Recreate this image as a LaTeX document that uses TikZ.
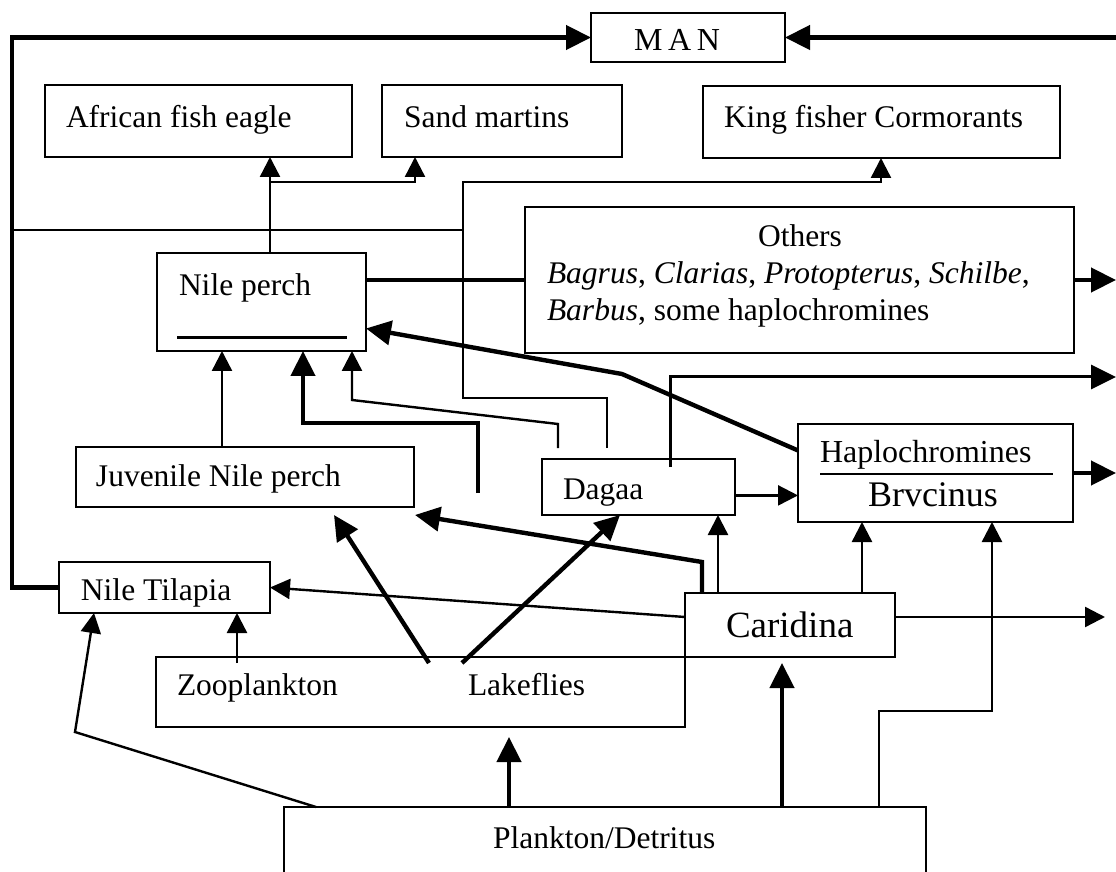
\documentclass[tikz,border=0pt]{standalone}
\usepackage{fontspec}
\setmainfont{Liberation Serif}
\usetikzlibrary{arrows.meta,fit,calc}
\begin{document}
\begin{tikzpicture}[x=0.5pt,y=-0.5pt,
  box/.style={draw, line width=1.1pt, inner sep=0pt, outer sep=0pt},
  lbl/.style={inner sep=0pt, outer sep=0pt, anchor=base west, font=\fontsize{15.75}{18}\selectfont},
  thinline/.style={line width=1.2pt},
  boldline/.style={line width=2.2pt},
  thinarrow/.style={line width=1.2pt, -{Triangle[length=10pt,width=10pt]}},
  boldarrow/.style={line width=2.2pt, -{Triangle[length=12.5pt,width=12pt]}},
]
\useasboundingbox (0,0) rectangle (1116,872);
\clip (0,0) rectangle (1116,872);

% ---- boxes ----
\node[box, fit={(591,13) (785,62)}] (man) {};
\node[box, fit={(45,85) (352,157)}] (afe) {};
\node[box, fit={(382,85) (622,157)}] (sm) {};
\node[box, fit={(703,86) (1060,158)}] (kf) {};
\node[box, fit={(525,207) (1074,353)}] (oth) {};
\node[box, fit={(157,253) (366,351)}] (npe) {};
\node[box, fit={(76,447) (414,507)}] (juv) {};
\node[box, fit={(542,459) (735,515)}] (dag) {};
\node[box, fit={(798,424) (1073,522)}] (hap) {};
\node[box, fit={(59,562) (270,613)}] (til) {};
\node[box, fit={(685,593) (895,657)}] (car) {};
\node[box, fit={(156,657) (685,727)}] (zoo) {};
\node[box, fit={(284,807) (926,890)}] (pla) {};

% ---- labels ----
\node[lbl, font=\fontsize{16}{18}\selectfont] (mant) at (634,51) {M\kern2.8pt A\kern2.8pt N};
\node[lbl] (afet) at (66,128) {African fish eagle};
\node[lbl] (smt) at (404,128) {Sand martins};
\node[lbl] (kft) at (724,128) {King fisher Cormorants};
\node[lbl, anchor=base] (otha) at (800,247) {Others};
\node[lbl] (othb) at (547,284) {\textit{Bagrus}, \textit{Clarias}, \textit{Protopterus}, \textit{Schilbe},};
\node[lbl] (othc) at (547,321) {\textit{Barbus}, some haplochromines};
\node[lbl] (npet) at (179,296) {Nile perch};
\node[lbl] (juvt) at (96,487) {Juvenile Nile perch};
\node[lbl] (dagt) at (563,499) {Dagaa};
\node[lbl, font=\fontsize{16}{18}\selectfont] (hapt) at (820,463) {Haplochromines};
\node[lbl, font=\fontsize{18}{20}\selectfont] (bryt) at (868,507) {Brvcinus};
\node[lbl, font=\fontsize{18.5}{20}\selectfont] (cart) at (726,637) {Caridina};
\node[lbl] (tilt) at (81,600) {Nile Tilapia};
\node[lbl] (zoot) at (177,695) {Zooplankton};
\node[lbl] (lakt) at (468,695) {Lakeflies};
\node[lbl] (plat) at (493,848) {Plankton/Detritus};

% underlines inside boxes
\draw[line width=1.5pt] ($(npe.south west)+(20,-13)$) -- ($(npe.south east)+(-19,-13)$);
\draw[line width=1.3pt] ($(hap.north west)+(22,50)$) -- ($(hap.north east)+(-20,50)$);

% ---- connectors ----
% Nile Tilapia round the left edge to MAN
\coordinate (loopx) at (12,300);
\draw[boldarrow] (til.west) -- (til.west -| loopx) -- (loopx |- man.west) -- (man.west);
% from the right edge to MAN
\coordinate (rin) at (1116,37.5);
\draw[boldarrow] (rin) -- (man.east);

% Nile perch to eagle and sand martins
\coordinate (fork) at (270,182);
\coordinate (smx) at (415,182);
\draw[thinarrow] (npe.north -| fork) -- (afe.south -| fork);
\draw[thinarrow] (fork) -- (smx) -- (sm.south -| smx);

% Dagaa route to kingfisher / cormorants
\coordinate (kfa) at (607,448);
\coordinate (kfb) at (607,398);
\coordinate (kfc) at (463,398);
\coordinate (kfd) at (463,182);
\coordinate (kfe) at (881,182);
\draw[thinarrow] (kfa) -- (kfb) -- (kfc) -- (kfd) -- (kfe) -- (kf.south -| kfe);
\coordinate (kfl) at (13,230);
\coordinate (kfm) at (463,230);
\draw[thinline] (kfl) -- (kfm);

% Nile perch -- Others, Others out
\draw[boldline] (npe.east |- oth.west) -- (oth.west);
\coordinate (othout) at (1116,280);
\draw[boldarrow] (oth.east) -- (othout);

% Haplochromines to Nile perch
\coordinate (hapbend) at (622,374);
\draw[boldarrow] ($(hap.north west)!0.27!(hap.south west)$) -- (hapbend) -- ($(npe.north east)!0.77!(npe.south east)$);

% Dagaa out to the right
\coordinate (dgin) at (670,467);
\coordinate (dgup) at (670,377);
\coordinate (dgout) at (1116,377);
\draw[line width=1.5pt, -{Triangle[length=12.5pt,width=12pt]}] (dgin) -- (dgup) -- (dgout);

% Haplochromines out
\coordinate (hapout) at (1116,473);
\draw[boldarrow] (hap.east) -- (hapout);

% Dagaa to Haplochromines
\draw[thinarrow] ($(dag.north east)!0.65!(dag.south east)$) coordinate (dgh) -- (dgh -| hap.west);

% Caridina upwards
\coordinate (carhap) at (862,560);
\coordinate (cardag) at (718,560);
\draw[thinarrow] (car.north -| carhap) -- (hap.south -| carhap);
\draw[thinarrow] (car.north -| cardag) -- (dag.south -| cardag);
\coordinate (cjb) at (702,562);
\draw[boldarrow] (car.north -| cjb) -- (cjb) -- ($(juv.south east)+(1,8)$);

% Caridina to Nile Tilapia and out
\draw[thinarrow] ($(car.north west)!0.375!(car.south west)$) -- (til.east);
\coordinate (carout) at (1105,617);
\draw[thinarrow] ($(car.north east)!0.375!(car.south east)$) -- (carout);

% Plankton/Detritus upwards
\coordinate (pc) at (782,700);
\draw[boldarrow, shorten >=3pt] (pla.north -| pc) -- (car.south -| pc);
\coordinate (ph1) at (879,711);
\coordinate (ph2) at (992,711);
\draw[thinarrow] (pla.north -| ph1) -- (ph1) -- (ph2) -- (hap.south -| ph2);
\coordinate (pz) at (509,760);
\draw[boldarrow, shorten >=5pt] (pla.north -| pz) -- (zoo.south -| pz);
\coordinate (pt1) at (316,807);
\coordinate (pt2) at (75,732);
\coordinate (pt3) at (94,700);
\draw[thinarrow] (pla.north -| pt1) -- (pt2) -- (til.south -| pt3);

% Zooplankton to Nile Tilapia
\coordinate (zt) at (237,663);
\draw[thinarrow] (zt) -- (til.south -| zt);

% Lakeflies to juvenile Nile perch and Dagaa
\coordinate (lj) at (429,663);
\coordinate (ld) at (462,663);
\draw[boldarrow] (lj) -- ($(juv.south west)+(258,8)$);
\draw[boldarrow] (ld) -- ($(dag.south west)+(78,0)$);

% into Nile perch from below
\coordinate (jn) at (222,400);
\draw[thinarrow] (juv.north -| jn) -- (npe.south -| jn);
\coordinate (fa) at (478,493);
\coordinate (fb) at (478,423);
\coordinate (fc) at (303,423);
\draw[boldarrow] (fa) -- (fb) -- (fc) -- (npe.south -| fc);
\coordinate (ga) at (558,448);
\coordinate (gb) at (558,424);
\coordinate (gc) at (352,400);
\draw[thinarrow] (ga) -- (gb) -- (gc) -- (npe.south -| gc);
\end{tikzpicture}
\end{document}
